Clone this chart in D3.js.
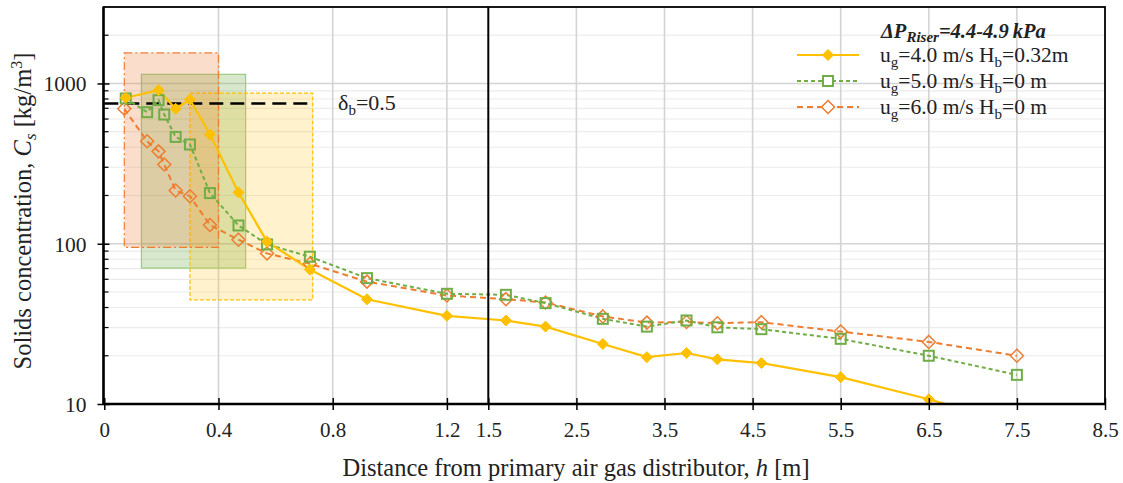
<!DOCTYPE html>
<html><head><meta charset="utf-8">
<script src="https://cdn.jsdelivr.net/npm/d3@7"></script>
<style>
html,body{margin:0;padding:0;background:#fff;}
svg text{font-family:"Liberation Serif","Times New Roman",Times,"DejaVu Serif","Noto Serif",serif !important;}
</style></head>
<body><svg id="c" width="1123" height="483"></svg>
<script>
// ---------- data ----------
const seriesNames = ["ug=4.0 m/s Hb=0.32m", "ug=5.0 m/s Hb=0 m", "ug=6.0 m/s Hb=0 m"];
const h4 = [0.075, 0.19, 0.25, 0.30, 0.37, 0.47, 0.57, 0.72, 0.92, 1.2, 1.7, 2.15, 2.8, 3.3, 3.75, 4.1, 4.6, 5.5, 6.5, 7.5];
const c4 = [815, 908, 695, 794, 480, 209, 103, 69, 45, 35.5, 33.2, 30.4, 23.7, 19.6, 20.8, 19.0, 18.0, 14.7, 10.7, 7.5];
const h5 = [0.075, 0.15, 0.19, 0.21, 0.25, 0.30, 0.37, 0.47, 0.57, 0.72, 0.92, 1.2, 1.7, 2.15, 2.8, 3.3, 3.75, 4.1, 4.6, 5.5, 6.5, 7.5];
const c5 = [806, 662, 787, 640, 464, 416, 207, 130, 99, 83, 61, 48.7, 48.0, 42.6, 34.0, 30.4, 33.2, 30.1, 29.3, 25.5, 20.0, 15.2];
const h6 = [0.07, 0.15, 0.19, 0.21, 0.25, 0.30, 0.37, 0.47, 0.57, 0.72, 0.92, 1.2, 1.7, 2.15, 2.8, 3.3, 3.75, 4.1, 4.6, 5.5, 6.5, 7.5];
const c6 = [695, 436, 377, 312, 215, 198, 131, 106, 87, 75, 58, 47.5, 45.1, 43.0, 35.2, 32.2, 32.5, 31.9, 32.4, 28.3, 24.4, 20.0];
// regions [h0, h1, c0, c1]
const boxOrange = [0.07, 0.40, 95, 1550];
const boxGreen  = [0.13, 0.495, 70.5, 1140];
const boxYellow = [0.30, 0.73, 44.7, 870];
const deltaLine = [0, 0.73, 750];
const xTicksLeft = [0, 0.4, 0.8, 1.2];
const xTicksRight = [1.5, 2.5, 3.5, 4.5, 5.5, 6.5, 7.5, 8.5];
const xTickLabels = ["0", "0.4", "0.8", "1.2", "1.5", "2.5", "3.5", "4.5", "5.5", "6.5", "7.5", "8.5"];
const yMajor = [10, 100, 1000];
const yMinor = [20,30,40,50,60,70,80,90,200,300,400,500,600,700,800,900,2000];

// ---------- layout ----------
const L = 103.5, R = 1105, T = 7, B = 404, XB = 488.3;
const svg = d3.select("#c");
const x = d3.scaleLinear().domain([0, 1.345, 1.5, 8.5]).range([104.3, XB, XB, R]);
const y = d3.scaleLog().domain([10, 3000]).range([B, T]);
const cY = "#FFC000", cG = "#70AD47", cO = "#ED7D31";

svg.append("defs").append("clipPath").attr("id","clip")
  .append("rect").attr("x",L).attr("y",T).attr("width",R-L).attr("height",B-T);

// grid
const g = svg.append("g");
g.selectAll(".hmin").data(yMinor).join("line")
  .attr("x1",L).attr("x2",R).attr("y1",d=>y(d)).attr("y2",d=>y(d))
  .attr("stroke","#ebebeb").attr("stroke-width",1.2);
g.selectAll(".hmaj").data([100,1000]).join("line")
  .attr("x1",L).attr("x2",R).attr("y1",d=>y(d)).attr("y2",d=>y(d))
  .attr("stroke","#d4d4d4").attr("stroke-width",1.6);
g.selectAll(".vg").data(xTicksLeft.slice(1).concat(xTicksRight.slice(1,-1))).join("line")
  .attr("x1",d=>x(d)).attr("x2",d=>x(d)).attr("y1",T).attr("y2",B)
  .attr("stroke","#d4d4d4").attr("stroke-width",1.6);

// boxes
function box(b, fill, op, stroke, dash){
  svg.append("rect").attr("x",x(b[0])).attr("y",y(b[3]))
    .attr("width",x(b[1])-x(b[0])).attr("height",y(b[2])-y(b[3]))
    .attr("fill",fill).attr("fill-opacity",op)
    .attr("stroke",stroke).attr("stroke-width",1.2).attr("stroke-dasharray",dash);
}
box(boxGreen, cG, 0.28, "#9cc97f", null);
box(boxYellow, cY, 0.2, cY, "4,2");
box(boxOrange, cO, 0.25, cO, "8,3,2,3");

// delta line
svg.append("line").attr("x1",x(deltaLine[0])).attr("x2",x(deltaLine[1]))
  .attr("y1",y(deltaLine[2])).attr("y2",y(deltaLine[2]))
  .attr("stroke","#000").attr("stroke-width",2.5).attr("stroke-dasharray","14,7");
const dl = svg.append("text").attr("x",338).attr("y",y(deltaLine[2])+7).attr("font-size",22).attr("fill","#222");
dl.append("tspan").text("δ");
dl.append("tspan").attr("font-size",15).attr("dy",5).text("b");
dl.append("tspan").attr("dy",-5).text("=0.5");

// series
const line = d3.line().x(d=>x(d[0])).y(d=>y(d[1]));
const plot = svg.append("g").attr("clip-path","url(#clip)");
const d4 = h4.map((h,i)=>[h,c4[i]]), d5 = h5.map((h,i)=>[h,c5[i]]), d6 = h6.map((h,i)=>[h,c6[i]]);
plot.append("path").datum(d6).attr("d",line).attr("fill","none").attr("stroke",cO).attr("stroke-width",2).attr("stroke-dasharray","6,4");
plot.append("path").datum(d5).attr("d",line).attr("fill","none").attr("stroke",cG).attr("stroke-width",2).attr("stroke-dasharray","4,3");
plot.append("path").datum(d4).attr("d",line).attr("fill","none").attr("stroke",cY).attr("stroke-width",2.2);

const diamond = s => `M0,${-s}L${s},0L0,${s}L${-s},0Z`;
plot.selectAll(".m6").data(d6).join("path").attr("transform",d=>`translate(${x(d[0])},${y(d[1])})`)
  .attr("d",diamond(6.5)).attr("fill","none").attr("stroke",cO).attr("stroke-width",1.5);
plot.selectAll(".m5").data(d5).join("rect").attr("x",d=>x(d[0])-5).attr("y",d=>y(d[1])-5)
  .attr("width",10).attr("height",10).attr("fill","none").attr("stroke",cG).attr("stroke-width",2);
plot.selectAll(".m4").data(d4).join("path").attr("transform",d=>`translate(${x(d[0])},${y(d[1])})`)
  .attr("d",diamond(5.5)).attr("fill",cY).attr("stroke",cY).attr("stroke-width",1);

// axes
const ax = svg.append("g").attr("transform",`translate(0,${B})`)
  .call(d3.axisBottom(x).tickValues(xTicksLeft.concat(xTicksRight)).tickSize(6).tickFormat((d,i)=>xTickLabels[i]));
ax.select(".domain").remove();
ax.selectAll(".tick line").attr("y1",-6).attr("y2",6).attr("stroke","#000").attr("stroke-width",1.5);
ax.selectAll(".tick text").attr("font-size",21).attr("fill","#222").attr("dy",0).attr("y",33);

const ay = svg.append("g").attr("transform",`translate(${L},0)`)
  .call(d3.axisLeft(y).tickValues(yMajor).tickSize(6).tickFormat(d3.format("d")));
ay.select(".domain").remove();
ay.selectAll(".tick line").attr("x1",6).attr("x2",-6).attr("stroke","#000").attr("stroke-width",1.5);
ay.selectAll(".tick text").attr("font-size",21.5).attr("fill","#222").attr("x",-17).attr("dy","0.34em");
svg.selectAll(".ymin").data(yMinor).join("line").attr("x1",L).attr("x2",L+5)
  .attr("y1",d=>y(d)).attr("y2",d=>y(d)).attr("stroke","#000").attr("stroke-width",1.2);

// frame
svg.append("rect").attr("x",L).attr("y",T).attr("width",R-L).attr("height",B-T)
  .attr("fill","none").attr("stroke","#000").attr("stroke-width",1.8);
svg.append("line").attr("x1",L).attr("x2",L).attr("y1",T).attr("y2",B).attr("stroke","#000").attr("stroke-width",2.4);
svg.append("line").attr("x1",L).attr("x2",R).attr("y1",B).attr("y2",B).attr("stroke","#000").attr("stroke-width",2.4);
svg.append("line").attr("x1",XB).attr("x2",XB).attr("y1",T).attr("y2",B).attr("stroke","#000").attr("stroke-width",2);

// axis titles
const xt = svg.append("text").attr("x",576).attr("y",476).attr("text-anchor","middle").attr("font-size",24.5).attr("fill","#222");
xt.append("tspan").text("Distance from primary air gas distributor, ");
xt.append("tspan").attr("font-style","italic").text("h");
xt.append("tspan").text(" [m]");

const yt = svg.append("text").attr("transform","translate(31,211) rotate(-90)").attr("text-anchor","middle").attr("font-size",24.5).attr("fill","#222");
yt.append("tspan").text("Solids concentration, ");
yt.append("tspan").attr("font-style","italic").text("C");
yt.append("tspan").attr("font-style","italic").attr("font-size",17).attr("dy",5).text("s");
yt.append("tspan").attr("dy",-5).text(" [kg/m");
yt.append("tspan").attr("font-size",16).attr("dy",-9).text("3");
yt.append("tspan").attr("dy",9).text("]");

// legend
const lg = svg.append("g");
const tt = lg.append("text").attr("x",881).attr("y",38).attr("font-size",20.5).attr("font-weight","bold").attr("font-style","italic").attr("fill","#222");
tt.append("tspan").text("ΔP");
tt.append("tspan").attr("font-size",15).attr("dy",4).text("Riser");
tt.append("tspan").attr("dy",-4).text("=4.4-4.9");
tt.append("tspan").attr("dx",4).text("kPa");

const legY = [55, 81, 107];
const legCol = [cY, cG, cO];
const legDash = [null, "4,3", "6,4"];
legY.forEach((yy,i)=>{
  lg.append("line").attr("x1",797).attr("x2",859).attr("y1",yy).attr("y2",yy)
    .attr("stroke",legCol[i]).attr("stroke-width",2).attr("stroke-dasharray",legDash[i]);
  if(i===0) lg.append("path").attr("transform",`translate(828,${yy})`).attr("d",diamond(5.5)).attr("fill",cY).attr("stroke",cY);
  if(i===1) lg.append("rect").attr("x",823).attr("y",yy-5).attr("width",10).attr("height",10).attr("fill","#fff").attr("stroke",cG).attr("stroke-width",2);
  if(i===2) lg.append("path").attr("transform",`translate(828,${yy})`).attr("d",diamond(6.5)).attr("fill","#fff").attr("stroke",cO).attr("stroke-width",1.5);
  const parts = seriesNames[i].match(/^ug(=.* m\/s )Hb(=.*)$/);
  const t = lg.append("text").attr("x",880).attr("y",yy+7).attr("font-size",21.5).attr("fill","#222");
  t.append("tspan").text("u");
  t.append("tspan").attr("font-size",15).attr("dy",5).text("g");
  t.append("tspan").attr("dy",-5).text(parts[1]+"H");
  t.append("tspan").attr("font-size",15).attr("dy",5).text("b");
  t.append("tspan").attr("dy",-5).text(parts[2]);
});
</script></body></html>
